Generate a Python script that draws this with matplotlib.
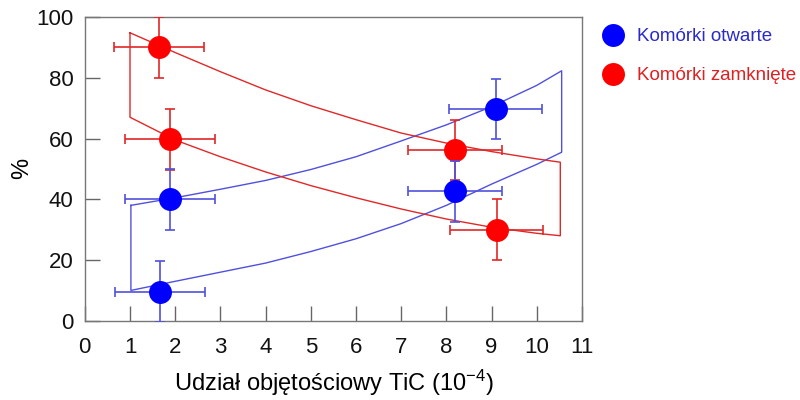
import matplotlib
matplotlib.use("Agg")
import matplotlib.pyplot as plt
from matplotlib.lines import Line2D

plt.rcParams["font.family"] = ["Liberation Sans", "DejaVu Sans"]
plt.rcParams["mathtext.fontset"] = "custom"
plt.rcParams["mathtext.rm"] = "Liberation Sans"
plt.rcParams["mathtext.it"] = "Liberation Sans:italic"

# measured fractions (x in 1e-4 volume fraction TiC, y in %)
open_x = [1.67, 1.89, 8.19, 9.09]
open_y = [9.6, 40.0, 42.6, 69.7]
open_xerr = [1.0, 1.0, 1.04, 1.03]
open_yerr = [10, 10, 10, 10]

closed_x = [1.64, 1.89, 8.19, 9.11]
closed_y = [90.0, 59.7, 56.2, 30.0]
closed_xerr = [1.0, 1.0, 1.04, 1.03]
closed_yerr = [10, 10, 10, 10]

# bounding bands (upper / lower edges)
open_band_x = [1.02, 2, 3, 4, 5, 6, 7, 8, 9, 10, 10.55]
open_band_hi = [38.0, 40.5, 43.3, 46.2, 49.8, 54.0, 59.2, 64.5, 70.5, 77.5, 82.3]
open_band_lo = [10.0, 13.0, 16.0, 19.0, 22.8, 27.0, 32.0, 38.0, 45.0, 51.5, 55.5]

closed_band_x = [1.0, 2, 3, 4, 5, 6, 7, 8, 9, 10, 10.52]
closed_band_hi = [94.8, 88.3, 82.0, 76.0, 70.8, 66.2, 61.8, 58.5, 55.7, 53.3, 52.2]
closed_band_lo = [67.0, 59.5, 54.0, 49.0, 44.5, 40.5, 36.8, 33.5, 30.8, 28.8, 28.0]

labels = ["Komórki otwarte", "Komórki zamknięte"]

BLUE = "#0000ff"
RED = "#ff0000"
BLUE_LINE = "#5050dd"
RED_LINE = "#e02828"

fig = plt.figure(figsize=(8, 4), dpi=100)
ax = fig.add_axes([0.106, 0.198, 0.6215, 0.7595])


def band_outline(xs, hi, lo):
    # closed outline: upper edge, right side, lower edge back, left side
    ox = list(xs) + list(xs[::-1]) + [xs[0]]
    oy = list(hi) + list(lo[::-1]) + [hi[0]]
    return ox, oy


bx, by = band_outline(open_band_x, open_band_hi, open_band_lo)
ax.plot(bx, by, color=BLUE_LINE, lw=1.0, zorder=2)
rx, ry = band_outline(closed_band_x, closed_band_hi, closed_band_lo)
ax.plot(rx, ry, color=RED_LINE, lw=1.0, zorder=2)

ax.errorbar(closed_x, closed_y, xerr=closed_xerr, yerr=closed_yerr, fmt="o",
            color=RED, ecolor=RED_LINE, elinewidth=1.2, capsize=3.3, capthick=1.2,
            markersize=15.5, zorder=3)
ax.errorbar(open_x, open_y, xerr=open_xerr, yerr=open_yerr, fmt="o",
            color=BLUE, ecolor=BLUE_LINE, elinewidth=1.2, capsize=3.3, capthick=1.2,
            markersize=15.5, zorder=4)

ax.set_xlim(0, 11)
ax.set_ylim(0, 100)
ax.set_xticks(range(0, 12))
ax.set_yticks(range(0, 101, 20))
ax.tick_params(direction="in", length=11, width=1, color="#666666",
               labelsize=16, labelcolor="#111111")
ax.tick_params(axis="x", pad=12)
ax.tick_params(axis="y", pad=8)
for s in ax.spines.values():
    s.set_color("#777777")
    s.set_linewidth(1.0)

ax.set_xlabel("Udział objętościowy TiC (10$^{-4}$)", fontsize=17, labelpad=7)
ax.set_ylabel("%", fontsize=17)
ax.yaxis.set_label_coords(-0.104, 0.5)

handles = [Line2D([], [], marker="o", ls="", color=BLUE, markersize=15.5),
           Line2D([], [], marker="o", ls="", color=RED, markersize=15.5)]
leg = fig.legend(handles, labels, loc="upper left", bbox_to_anchor=(0.745, 0.948),
                 frameon=False, fontsize=13.5, handlelength=1.0, handletextpad=0.8,
                 labelspacing=1.15, borderaxespad=0)
leg.get_texts()[0].set_color("#2a2ac8")
leg.get_texts()[1].set_color("#e02020")

fig.savefig("out.png", dpi=100)
